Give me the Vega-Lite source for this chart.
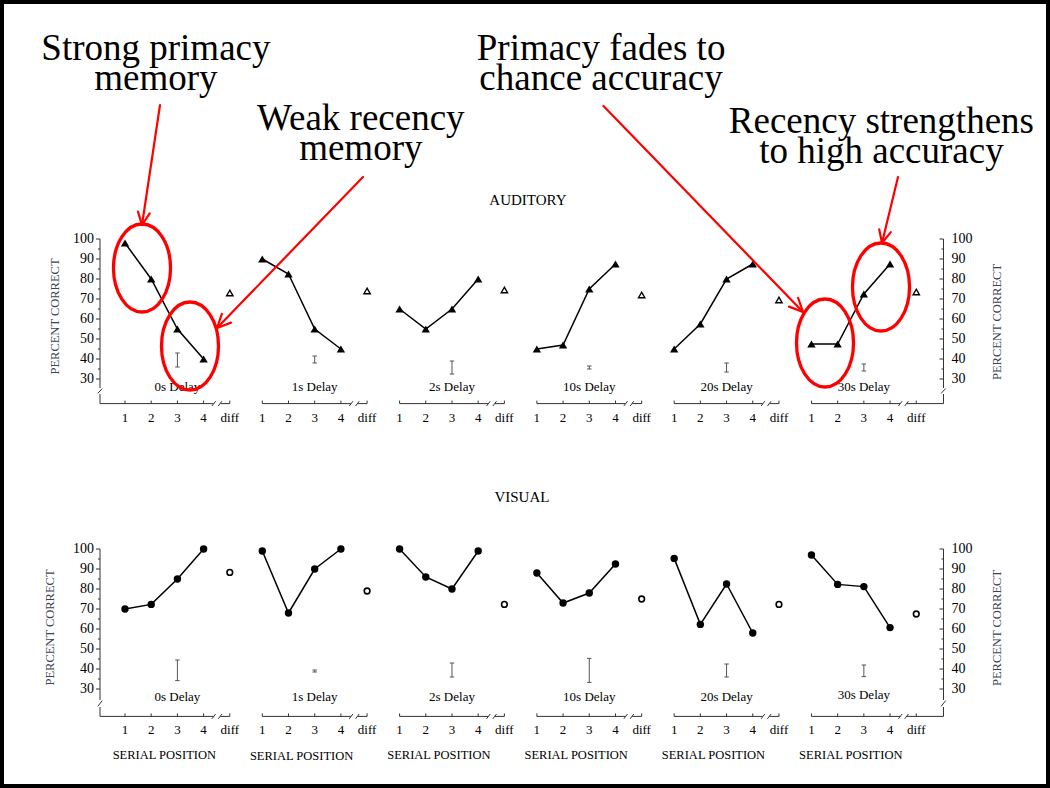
{
"$schema": "https://vega.github.io/schema/vega-lite/v6.json",
"width": 1050, "height": 788, "padding": 0, "autosize": {"type": "none"},
"background": "white",
"config": {"view": {"stroke": "black", "strokeWidth": 8}, "text": {"font": "Liberation Serif", "color": "black"}},
"data": {"values": [
{"kind":"d","row":"A","delay":"0s","panel":0,"pos":1,"val":98},
{"kind":"d","row":"A","delay":"0s","panel":0,"pos":2,"val":80},
{"kind":"d","row":"A","delay":"0s","panel":0,"pos":3,"val":55},
{"kind":"d","row":"A","delay":"0s","panel":0,"pos":4,"val":40},
{"kind":"d","row":"A","delay":"0s","panel":0,"pos":5,"val":73},
{"kind":"d","row":"A","delay":"1s","panel":1,"pos":1,"val":90},
{"kind":"d","row":"A","delay":"1s","panel":1,"pos":2,"val":82.5},
{"kind":"d","row":"A","delay":"1s","panel":1,"pos":3,"val":55},
{"kind":"d","row":"A","delay":"1s","panel":1,"pos":4,"val":45},
{"kind":"d","row":"A","delay":"1s","panel":1,"pos":5,"val":74},
{"kind":"d","row":"A","delay":"2s","panel":2,"pos":1,"val":65},
{"kind":"d","row":"A","delay":"2s","panel":2,"pos":2,"val":55},
{"kind":"d","row":"A","delay":"2s","panel":2,"pos":3,"val":65},
{"kind":"d","row":"A","delay":"2s","panel":2,"pos":4,"val":80},
{"kind":"d","row":"A","delay":"2s","panel":2,"pos":5,"val":74.5},
{"kind":"d","row":"A","delay":"10s","panel":3,"pos":1,"val":45},
{"kind":"d","row":"A","delay":"10s","panel":3,"pos":2,"val":47},
{"kind":"d","row":"A","delay":"10s","panel":3,"pos":3,"val":75},
{"kind":"d","row":"A","delay":"10s","panel":3,"pos":4,"val":87.5},
{"kind":"d","row":"A","delay":"10s","panel":3,"pos":5,"val":72},
{"kind":"d","row":"A","delay":"20s","panel":4,"pos":1,"val":45},
{"kind":"d","row":"A","delay":"20s","panel":4,"pos":2,"val":57.5},
{"kind":"d","row":"A","delay":"20s","panel":4,"pos":3,"val":80},
{"kind":"d","row":"A","delay":"20s","panel":4,"pos":4,"val":87.5},
{"kind":"d","row":"A","delay":"20s","panel":4,"pos":5,"val":69.5},
{"kind":"d","row":"A","delay":"30s","panel":5,"pos":1,"val":47.5},
{"kind":"d","row":"A","delay":"30s","panel":5,"pos":2,"val":47.5},
{"kind":"d","row":"A","delay":"30s","panel":5,"pos":3,"val":72.5},
{"kind":"d","row":"A","delay":"30s","panel":5,"pos":4,"val":87.5},
{"kind":"d","row":"A","delay":"30s","panel":5,"pos":5,"val":73.5},
{"kind":"d","row":"V","delay":"0s","panel":0,"pos":1,"val":70},
{"kind":"d","row":"V","delay":"0s","panel":0,"pos":2,"val":72.3},
{"kind":"d","row":"V","delay":"0s","panel":0,"pos":3,"val":85},
{"kind":"d","row":"V","delay":"0s","panel":0,"pos":4,"val":100},
{"kind":"d","row":"V","delay":"0s","panel":0,"pos":5,"val":88.3},
{"kind":"d","row":"V","delay":"1s","panel":1,"pos":1,"val":99},
{"kind":"d","row":"V","delay":"1s","panel":1,"pos":2,"val":68},
{"kind":"d","row":"V","delay":"1s","panel":1,"pos":3,"val":90},
{"kind":"d","row":"V","delay":"1s","panel":1,"pos":4,"val":100},
{"kind":"d","row":"V","delay":"1s","panel":1,"pos":5,"val":79},
{"kind":"d","row":"V","delay":"2s","panel":2,"pos":1,"val":100},
{"kind":"d","row":"V","delay":"2s","panel":2,"pos":2,"val":86},
{"kind":"d","row":"V","delay":"2s","panel":2,"pos":3,"val":80},
{"kind":"d","row":"V","delay":"2s","panel":2,"pos":4,"val":99},
{"kind":"d","row":"V","delay":"2s","panel":2,"pos":5,"val":72.3},
{"kind":"d","row":"V","delay":"10s","panel":3,"pos":1,"val":88},
{"kind":"d","row":"V","delay":"10s","panel":3,"pos":2,"val":73},
{"kind":"d","row":"V","delay":"10s","panel":3,"pos":3,"val":78},
{"kind":"d","row":"V","delay":"10s","panel":3,"pos":4,"val":92.5},
{"kind":"d","row":"V","delay":"10s","panel":3,"pos":5,"val":75},
{"kind":"d","row":"V","delay":"20s","panel":4,"pos":1,"val":95.3},
{"kind":"d","row":"V","delay":"20s","panel":4,"pos":2,"val":62.3},
{"kind":"d","row":"V","delay":"20s","panel":4,"pos":3,"val":82.5},
{"kind":"d","row":"V","delay":"20s","panel":4,"pos":4,"val":58},
{"kind":"d","row":"V","delay":"20s","panel":4,"pos":5,"val":72.3},
{"kind":"d","row":"V","delay":"30s","panel":5,"pos":1,"val":97},
{"kind":"d","row":"V","delay":"30s","panel":5,"pos":2,"val":82.3},
{"kind":"d","row":"V","delay":"30s","panel":5,"pos":3,"val":81.2},
{"kind":"d","row":"V","delay":"30s","panel":5,"pos":4,"val":60.7},
{"kind":"d","row":"V","delay":"30s","panel":5,"pos":5,"val":67.5},

{"kind":"e","row":"A","panel":0,"pos":3,"val":36,"val2":43},
{"kind":"e","row":"A","panel":1,"pos":3,"val":38,"val2":41.5},
{"kind":"e","row":"A","panel":2,"pos":3,"val":32.5,"val2":39},
{"kind":"e","row":"A","panel":3,"pos":3,"val":35,"val2":36.5},
{"kind":"e","row":"A","panel":4,"pos":3,"val":33.5,"val2":38},
{"kind":"e","row":"A","panel":5,"pos":3,"val":34,"val2":37.5},
{"kind":"e","row":"V","panel":0,"pos":3,"val":34.2,"val2":44.5},
{"kind":"e","row":"V","panel":1,"pos":3,"val":38.5,"val2":39.5},
{"kind":"e","row":"V","panel":2,"pos":3,"val":36,"val2":43},
{"kind":"e","row":"V","panel":3,"pos":3,"val":33.3,"val2":45.3},
{"kind":"e","row":"V","panel":4,"pos":3,"val":36,"val2":42.5},
{"kind":"e","row":"V","panel":5,"pos":3,"val":36.2,"val2":42},

{"kind":"seg","row":"A","panel":0,"pos":0.046,"pos2":4.38,"val":17.7,"val2":17.7},
{"kind":"seg","row":"A","panel":1,"pos":1,"pos2":4.38,"val":17.7,"val2":17.7},
{"kind":"seg","row":"A","panel":2,"pos":1,"pos2":4.38,"val":17.7,"val2":17.7},
{"kind":"seg","row":"A","panel":3,"pos":1,"pos2":4.38,"val":17.7,"val2":17.7},
{"kind":"seg","row":"A","panel":4,"pos":1,"pos2":4.38,"val":17.7,"val2":17.7},
{"kind":"seg","row":"A","panel":5,"pos":1,"pos2":4.38,"val":17.7,"val2":17.7},
{"kind":"seg","row":"A","panel":0,"pos":4.32,"pos2":4.46,"val":16.5,"val2":18.9},
{"kind":"seg","row":"A","panel":1,"pos":4.32,"pos2":4.46,"val":16.5,"val2":18.9},
{"kind":"seg","row":"A","panel":2,"pos":4.32,"pos2":4.46,"val":16.5,"val2":18.9},
{"kind":"seg","row":"A","panel":3,"pos":4.32,"pos2":4.46,"val":16.5,"val2":18.9},
{"kind":"seg","row":"A","panel":4,"pos":4.32,"pos2":4.46,"val":16.5,"val2":18.9},
{"kind":"seg","row":"A","panel":5,"pos":4.32,"pos2":4.46,"val":16.5,"val2":18.9},
{"kind":"seg","row":"A","panel":0,"pos":4.56,"pos2":4.70,"val":16.5,"val2":18.9},
{"kind":"seg","row":"A","panel":1,"pos":4.56,"pos2":4.70,"val":16.5,"val2":18.9},
{"kind":"seg","row":"A","panel":2,"pos":4.56,"pos2":4.70,"val":16.5,"val2":18.9},
{"kind":"seg","row":"A","panel":3,"pos":4.56,"pos2":4.70,"val":16.5,"val2":18.9},
{"kind":"seg","row":"A","panel":4,"pos":4.56,"pos2":4.70,"val":16.5,"val2":18.9},
{"kind":"seg","row":"A","panel":5,"pos":4.56,"pos2":4.70,"val":16.5,"val2":18.9},
{"kind":"seg","row":"A","panel":0,"pos":4.64,"pos2":5.0,"val":17.7,"val2":17.7},
{"kind":"seg","row":"A","panel":1,"pos":4.64,"pos2":5.0,"val":17.7,"val2":17.7},
{"kind":"seg","row":"A","panel":2,"pos":4.64,"pos2":5.0,"val":17.7,"val2":17.7},
{"kind":"seg","row":"A","panel":3,"pos":4.64,"pos2":5.0,"val":17.7,"val2":17.7},
{"kind":"seg","row":"A","panel":4,"pos":4.64,"pos2":5.0,"val":17.7,"val2":17.7},
{"kind":"seg","row":"A","panel":5,"pos":4.64,"pos2":6.04,"val":17.7,"val2":17.7},
{"kind":"seg","row":"V","panel":0,"pos":0.046,"pos2":4.38,"val":16.3,"val2":16.3},
{"kind":"seg","row":"V","panel":1,"pos":1,"pos2":4.38,"val":16.3,"val2":16.3},
{"kind":"seg","row":"V","panel":2,"pos":1,"pos2":4.38,"val":16.3,"val2":16.3},
{"kind":"seg","row":"V","panel":3,"pos":1,"pos2":4.38,"val":16.3,"val2":16.3},
{"kind":"seg","row":"V","panel":4,"pos":1,"pos2":4.38,"val":16.3,"val2":16.3},
{"kind":"seg","row":"V","panel":5,"pos":1,"pos2":4.38,"val":16.3,"val2":16.3},
{"kind":"seg","row":"V","panel":0,"pos":4.32,"pos2":4.46,"val":15.1,"val2":17.5},
{"kind":"seg","row":"V","panel":1,"pos":4.32,"pos2":4.46,"val":15.1,"val2":17.5},
{"kind":"seg","row":"V","panel":2,"pos":4.32,"pos2":4.46,"val":15.1,"val2":17.5},
{"kind":"seg","row":"V","panel":3,"pos":4.32,"pos2":4.46,"val":15.1,"val2":17.5},
{"kind":"seg","row":"V","panel":4,"pos":4.32,"pos2":4.46,"val":15.1,"val2":17.5},
{"kind":"seg","row":"V","panel":5,"pos":4.32,"pos2":4.46,"val":15.1,"val2":17.5},
{"kind":"seg","row":"V","panel":0,"pos":4.56,"pos2":4.70,"val":15.1,"val2":17.5},
{"kind":"seg","row":"V","panel":1,"pos":4.56,"pos2":4.70,"val":15.1,"val2":17.5},
{"kind":"seg","row":"V","panel":2,"pos":4.56,"pos2":4.70,"val":15.1,"val2":17.5},
{"kind":"seg","row":"V","panel":3,"pos":4.56,"pos2":4.70,"val":15.1,"val2":17.5},
{"kind":"seg","row":"V","panel":4,"pos":4.56,"pos2":4.70,"val":15.1,"val2":17.5},
{"kind":"seg","row":"V","panel":5,"pos":4.56,"pos2":4.70,"val":15.1,"val2":17.5},
{"kind":"seg","row":"V","panel":0,"pos":4.64,"pos2":5.0,"val":16.3,"val2":16.3},
{"kind":"seg","row":"V","panel":1,"pos":4.64,"pos2":5.0,"val":16.3,"val2":16.3},
{"kind":"seg","row":"V","panel":2,"pos":4.64,"pos2":5.0,"val":16.3,"val2":16.3},
{"kind":"seg","row":"V","panel":3,"pos":4.64,"pos2":5.0,"val":16.3,"val2":16.3},
{"kind":"seg","row":"V","panel":4,"pos":4.64,"pos2":5.0,"val":16.3,"val2":16.3},
{"kind":"seg","row":"V","panel":5,"pos":4.64,"pos2":6.04,"val":16.3,"val2":16.3},
{"kind":"seg","row":"A","panel":0,"pos":0.046,"pos2":0.046,"val":100,"val2":25.5},
{"kind":"seg","row":"A","panel":0,"pos":0.046,"pos2":0.046,"val":22.5,"val2":17.7},
{"kind":"seg","row":"A","panel":0,"pos":-0.04,"pos2":0.13,"val":22.8,"val2":25.2},
{"kind":"seg","row":"A","panel":5,"pos":6.04,"pos2":6.04,"val":100,"val2":25.5},
{"kind":"seg","row":"A","panel":5,"pos":6.04,"pos2":6.04,"val":22.5,"val2":17.7},
{"kind":"seg","row":"A","panel":5,"pos":5.95,"pos2":6.12,"val":22.8,"val2":25.2},
{"kind":"seg","row":"V","panel":0,"pos":0.046,"pos2":0.046,"val":100,"val2":24.5},
{"kind":"seg","row":"V","panel":0,"pos":0.046,"pos2":0.046,"val":21,"val2":16.3},
{"kind":"seg","row":"V","panel":0,"pos":-0.04,"pos2":0.13,"val":21.3,"val2":24.2},
{"kind":"seg","row":"V","panel":5,"pos":6.04,"pos2":6.04,"val":100,"val2":24.5},
{"kind":"seg","row":"V","panel":5,"pos":6.04,"pos2":6.04,"val":21,"val2":16.3},
{"kind":"seg","row":"V","panel":5,"pos":5.95,"pos2":6.12,"val":21.3,"val2":24.2},

{"kind":"xt","row":"A","panel":0,"pos":1,"val":17.7,"label":"1"},
{"kind":"xt","row":"A","panel":0,"pos":2,"val":17.7,"label":"2"},
{"kind":"xt","row":"A","panel":0,"pos":3,"val":17.7,"label":"3"},
{"kind":"xt","row":"A","panel":0,"pos":4,"val":17.7,"label":"4"},
{"kind":"xt","row":"A","panel":0,"pos":5,"val":17.7,"label":"diff"},
{"kind":"xt","row":"A","panel":1,"pos":1,"val":17.7,"label":"1"},
{"kind":"xt","row":"A","panel":1,"pos":2,"val":17.7,"label":"2"},
{"kind":"xt","row":"A","panel":1,"pos":3,"val":17.7,"label":"3"},
{"kind":"xt","row":"A","panel":1,"pos":4,"val":17.7,"label":"4"},
{"kind":"xt","row":"A","panel":1,"pos":5,"val":17.7,"label":"diff"},
{"kind":"xt","row":"A","panel":2,"pos":1,"val":17.7,"label":"1"},
{"kind":"xt","row":"A","panel":2,"pos":2,"val":17.7,"label":"2"},
{"kind":"xt","row":"A","panel":2,"pos":3,"val":17.7,"label":"3"},
{"kind":"xt","row":"A","panel":2,"pos":4,"val":17.7,"label":"4"},
{"kind":"xt","row":"A","panel":2,"pos":5,"val":17.7,"label":"diff"},
{"kind":"xt","row":"A","panel":3,"pos":1,"val":17.7,"label":"1"},
{"kind":"xt","row":"A","panel":3,"pos":2,"val":17.7,"label":"2"},
{"kind":"xt","row":"A","panel":3,"pos":3,"val":17.7,"label":"3"},
{"kind":"xt","row":"A","panel":3,"pos":4,"val":17.7,"label":"4"},
{"kind":"xt","row":"A","panel":3,"pos":5,"val":17.7,"label":"diff"},
{"kind":"xt","row":"A","panel":4,"pos":1,"val":17.7,"label":"1"},
{"kind":"xt","row":"A","panel":4,"pos":2,"val":17.7,"label":"2"},
{"kind":"xt","row":"A","panel":4,"pos":3,"val":17.7,"label":"3"},
{"kind":"xt","row":"A","panel":4,"pos":4,"val":17.7,"label":"4"},
{"kind":"xt","row":"A","panel":4,"pos":5,"val":17.7,"label":"diff"},
{"kind":"xt","row":"A","panel":5,"pos":1,"val":17.7,"label":"1"},
{"kind":"xt","row":"A","panel":5,"pos":2,"val":17.7,"label":"2"},
{"kind":"xt","row":"A","panel":5,"pos":3,"val":17.7,"label":"3"},
{"kind":"xt","row":"A","panel":5,"pos":4,"val":17.7,"label":"4"},
{"kind":"xt","row":"A","panel":5,"pos":5,"val":17.7,"label":"diff"},
{"kind":"xt","row":"V","panel":0,"pos":1,"val":16.3,"label":"1"},
{"kind":"xt","row":"V","panel":0,"pos":2,"val":16.3,"label":"2"},
{"kind":"xt","row":"V","panel":0,"pos":3,"val":16.3,"label":"3"},
{"kind":"xt","row":"V","panel":0,"pos":4,"val":16.3,"label":"4"},
{"kind":"xt","row":"V","panel":0,"pos":5,"val":16.3,"label":"diff"},
{"kind":"xt","row":"V","panel":1,"pos":1,"val":16.3,"label":"1"},
{"kind":"xt","row":"V","panel":1,"pos":2,"val":16.3,"label":"2"},
{"kind":"xt","row":"V","panel":1,"pos":3,"val":16.3,"label":"3"},
{"kind":"xt","row":"V","panel":1,"pos":4,"val":16.3,"label":"4"},
{"kind":"xt","row":"V","panel":1,"pos":5,"val":16.3,"label":"diff"},
{"kind":"xt","row":"V","panel":2,"pos":1,"val":16.3,"label":"1"},
{"kind":"xt","row":"V","panel":2,"pos":2,"val":16.3,"label":"2"},
{"kind":"xt","row":"V","panel":2,"pos":3,"val":16.3,"label":"3"},
{"kind":"xt","row":"V","panel":2,"pos":4,"val":16.3,"label":"4"},
{"kind":"xt","row":"V","panel":2,"pos":5,"val":16.3,"label":"diff"},
{"kind":"xt","row":"V","panel":3,"pos":1,"val":16.3,"label":"1"},
{"kind":"xt","row":"V","panel":3,"pos":2,"val":16.3,"label":"2"},
{"kind":"xt","row":"V","panel":3,"pos":3,"val":16.3,"label":"3"},
{"kind":"xt","row":"V","panel":3,"pos":4,"val":16.3,"label":"4"},
{"kind":"xt","row":"V","panel":3,"pos":5,"val":16.3,"label":"diff"},
{"kind":"xt","row":"V","panel":4,"pos":1,"val":16.3,"label":"1"},
{"kind":"xt","row":"V","panel":4,"pos":2,"val":16.3,"label":"2"},
{"kind":"xt","row":"V","panel":4,"pos":3,"val":16.3,"label":"3"},
{"kind":"xt","row":"V","panel":4,"pos":4,"val":16.3,"label":"4"},
{"kind":"xt","row":"V","panel":4,"pos":5,"val":16.3,"label":"diff"},
{"kind":"xt","row":"V","panel":5,"pos":1,"val":16.3,"label":"1"},
{"kind":"xt","row":"V","panel":5,"pos":2,"val":16.3,"label":"2"},
{"kind":"xt","row":"V","panel":5,"pos":3,"val":16.3,"label":"3"},
{"kind":"xt","row":"V","panel":5,"pos":4,"val":16.3,"label":"4"},
{"kind":"xt","row":"V","panel":5,"pos":5,"val":16.3,"label":"diff"},

{"kind":"yt","row":"A","side":"L","panel":0,"pos":0.046,"val":30},
{"kind":"yt","row":"A","side":"L","panel":0,"pos":0.046,"val":35},
{"kind":"yt","row":"A","side":"L","panel":0,"pos":0.046,"val":40},
{"kind":"yt","row":"A","side":"L","panel":0,"pos":0.046,"val":45},
{"kind":"yt","row":"A","side":"L","panel":0,"pos":0.046,"val":50},
{"kind":"yt","row":"A","side":"L","panel":0,"pos":0.046,"val":55},
{"kind":"yt","row":"A","side":"L","panel":0,"pos":0.046,"val":60},
{"kind":"yt","row":"A","side":"L","panel":0,"pos":0.046,"val":65},
{"kind":"yt","row":"A","side":"L","panel":0,"pos":0.046,"val":70},
{"kind":"yt","row":"A","side":"L","panel":0,"pos":0.046,"val":75},
{"kind":"yt","row":"A","side":"L","panel":0,"pos":0.046,"val":80},
{"kind":"yt","row":"A","side":"L","panel":0,"pos":0.046,"val":85},
{"kind":"yt","row":"A","side":"L","panel":0,"pos":0.046,"val":90},
{"kind":"yt","row":"A","side":"L","panel":0,"pos":0.046,"val":95},
{"kind":"yt","row":"A","side":"L","panel":0,"pos":0.046,"val":100},
{"kind":"yt","row":"A","side":"R","panel":5,"pos":6.04,"val":30},
{"kind":"yt","row":"A","side":"R","panel":5,"pos":6.04,"val":35},
{"kind":"yt","row":"A","side":"R","panel":5,"pos":6.04,"val":40},
{"kind":"yt","row":"A","side":"R","panel":5,"pos":6.04,"val":45},
{"kind":"yt","row":"A","side":"R","panel":5,"pos":6.04,"val":50},
{"kind":"yt","row":"A","side":"R","panel":5,"pos":6.04,"val":55},
{"kind":"yt","row":"A","side":"R","panel":5,"pos":6.04,"val":60},
{"kind":"yt","row":"A","side":"R","panel":5,"pos":6.04,"val":65},
{"kind":"yt","row":"A","side":"R","panel":5,"pos":6.04,"val":70},
{"kind":"yt","row":"A","side":"R","panel":5,"pos":6.04,"val":75},
{"kind":"yt","row":"A","side":"R","panel":5,"pos":6.04,"val":80},
{"kind":"yt","row":"A","side":"R","panel":5,"pos":6.04,"val":85},
{"kind":"yt","row":"A","side":"R","panel":5,"pos":6.04,"val":90},
{"kind":"yt","row":"A","side":"R","panel":5,"pos":6.04,"val":95},
{"kind":"yt","row":"A","side":"R","panel":5,"pos":6.04,"val":100},
{"kind":"yt","row":"V","side":"L","panel":0,"pos":0.046,"val":30},
{"kind":"yt","row":"V","side":"L","panel":0,"pos":0.046,"val":35},
{"kind":"yt","row":"V","side":"L","panel":0,"pos":0.046,"val":40},
{"kind":"yt","row":"V","side":"L","panel":0,"pos":0.046,"val":45},
{"kind":"yt","row":"V","side":"L","panel":0,"pos":0.046,"val":50},
{"kind":"yt","row":"V","side":"L","panel":0,"pos":0.046,"val":55},
{"kind":"yt","row":"V","side":"L","panel":0,"pos":0.046,"val":60},
{"kind":"yt","row":"V","side":"L","panel":0,"pos":0.046,"val":65},
{"kind":"yt","row":"V","side":"L","panel":0,"pos":0.046,"val":70},
{"kind":"yt","row":"V","side":"L","panel":0,"pos":0.046,"val":75},
{"kind":"yt","row":"V","side":"L","panel":0,"pos":0.046,"val":80},
{"kind":"yt","row":"V","side":"L","panel":0,"pos":0.046,"val":85},
{"kind":"yt","row":"V","side":"L","panel":0,"pos":0.046,"val":90},
{"kind":"yt","row":"V","side":"L","panel":0,"pos":0.046,"val":95},
{"kind":"yt","row":"V","side":"L","panel":0,"pos":0.046,"val":100},
{"kind":"yt","row":"V","side":"R","panel":5,"pos":6.04,"val":30},
{"kind":"yt","row":"V","side":"R","panel":5,"pos":6.04,"val":35},
{"kind":"yt","row":"V","side":"R","panel":5,"pos":6.04,"val":40},
{"kind":"yt","row":"V","side":"R","panel":5,"pos":6.04,"val":45},
{"kind":"yt","row":"V","side":"R","panel":5,"pos":6.04,"val":50},
{"kind":"yt","row":"V","side":"R","panel":5,"pos":6.04,"val":55},
{"kind":"yt","row":"V","side":"R","panel":5,"pos":6.04,"val":60},
{"kind":"yt","row":"V","side":"R","panel":5,"pos":6.04,"val":65},
{"kind":"yt","row":"V","side":"R","panel":5,"pos":6.04,"val":70},
{"kind":"yt","row":"V","side":"R","panel":5,"pos":6.04,"val":75},
{"kind":"yt","row":"V","side":"R","panel":5,"pos":6.04,"val":80},
{"kind":"yt","row":"V","side":"R","panel":5,"pos":6.04,"val":85},
{"kind":"yt","row":"V","side":"R","panel":5,"pos":6.04,"val":90},
{"kind":"yt","row":"V","side":"R","panel":5,"pos":6.04,"val":95},
{"kind":"yt","row":"V","side":"R","panel":5,"pos":6.04,"val":100},

{"kind":"dl","row":"A","panel":0,"pos":3,"val":26,"label":"0s  Delay"},
{"kind":"dl","row":"A","panel":1,"pos":3,"val":26,"label":"1s  Delay"},
{"kind":"dl","row":"A","panel":2,"pos":3,"val":26,"label":"2s Delay"},
{"kind":"dl","row":"A","panel":3,"pos":3,"val":26,"label":"10s Delay"},
{"kind":"dl","row":"A","panel":4,"pos":3,"val":26,"label":"20s Delay"},
{"kind":"dl","row":"A","panel":5,"pos":3,"val":26,"label":"30s Delay"},
{"kind":"dl","row":"V","panel":0,"pos":3,"val":26,"label":"0s  Delay"},
{"kind":"dl","row":"V","panel":1,"pos":3,"val":26,"label":"1s  Delay"},
{"kind":"dl","row":"V","panel":2,"pos":3,"val":26,"label":"2s Delay"},
{"kind":"dl","row":"V","panel":3,"pos":3,"val":26,"label":"10s Delay"},
{"kind":"dl","row":"V","panel":4,"pos":3,"val":26,"label":"20s Delay"},
{"kind":"dl","row":"V","panel":5,"pos":3,"val":27,"label":"30s Delay"},

{"kind":"sp","row":"V","panel":0,"pos":2.5,"val":-3,"label":"SERIAL  POSITION"},
{"kind":"sp","row":"V","panel":1,"pos":2.5,"val":-3.5,"label":"SERIAL  POSITION"},
{"kind":"sp","row":"V","panel":2,"pos":2.5,"val":-3,"label":"SERIAL  POSITION"},
{"kind":"sp","row":"V","panel":3,"pos":2.5,"val":-3,"label":"SERIAL  POSITION"},
{"kind":"sp","row":"V","panel":4,"pos":2.5,"val":-3,"label":"SERIAL  POSITION"},
{"kind":"sp","row":"V","panel":5,"pos":2.5,"val":-3,"label":"SERIAL  POSITION"},

{"kind":"pc","row":"A","panel":0,"pos":-1.672,"val":61.25,"label":"PERCENT  CORRECT"},
{"kind":"pc","row":"V","panel":0,"pos":-1.862,"val":60.75,"label":"PERCENT  CORRECT"},
{"kind":"pc","row":"A","panel":5,"pos":8.1,"val":58.5,"label":"PERCENT  CORRECT"},
{"kind":"pc","row":"V","panel":5,"pos":8.1,"val":60.5,"label":"PERCENT  CORRECT"},

{"kind":"title","row":"A","panel":0,"pos":16.38,"val":119.5,"label":"AUDITORY"},
{"kind":"title","row":"V","panel":0,"pos":16.15,"val":126,"label":"VISUAL"},

{"kind":"ann","row":"A","panel":0,"pos":2.18,"val":189.5,"label":"Strong primacy\nmemory"},
{"kind":"ann","row":"A","panel":0,"pos":10.0,"val":154.5,"label":"Weak recency\nmemory"},
{"kind":"ann","row":"A","panel":0,"pos":19.17,"val":189.5,"label":"Primacy fades to\nchance accuracy"},
{"kind":"ann","row":"A","panel":0,"pos":29.87,"val":153,"label":"Recency strengthens\nto high accuracy"},

{"kind":"ell","row":"A","panel":0,"pos":1.649,"val":85.5},
{"kind":"ell","row":"A","panel":0,"pos":3.481,"val":46.5},
{"kind":"ell","row":"A","panel":0,"pos":27.718,"val":48},
{"kind":"ell","row":"A","panel":0,"pos":29.855,"val":76},

{"kind":"arr","row":"A","panel":0,"pos":2.336,"pos2":1.649,"val":167,"val2":107},
{"kind":"arr","row":"A","panel":0,"pos":1.943,"pos2":1.649,"val":112.85,"val2":107},
{"kind":"arr","row":"A","panel":0,"pos":1.496,"pos2":1.649,"val":113.7,"val2":107},
{"kind":"arr","row":"A","panel":0,"pos":10.084,"pos2":4.511,"val":131,"val2":55.5},
{"kind":"arr","row":"A","panel":0,"pos":5.046,"pos2":4.511,"val":58.2,"val2":55.5},
{"kind":"arr","row":"A","panel":0,"pos":4.698,"pos2":4.511,"val":62.6,"val2":55.5},
{"kind":"arr","row":"A","panel":0,"pos":19.263,"pos2":26.878,"val":166.5,"val2":63.5},
{"kind":"arr","row":"A","panel":0,"pos":26.691,"pos2":26.878,"val":70.6,"val2":63.5},
{"kind":"arr","row":"A","panel":0,"pos":26.344,"pos2":26.878,"val":66.2,"val2":63.5},
{"kind":"arr","row":"A","panel":0,"pos":30.504,"pos2":29.893,"val":131,"val2":98},
{"kind":"arr","row":"A","panel":0,"pos":30.229,"pos2":29.893,"val":103.45,"val2":98},
{"kind":"arr","row":"A","panel":0,"pos":29.786,"pos2":29.893,"val":104.85,"val2":98}
]},
"transform": [
 {"calculate": "datum.panel * 5.24 + datum.pos", "as": "x"},
 {"calculate": "datum.panel * 5.24 + datum.pos2", "as": "x2"},
 {"calculate": "datum.row == 'V' ? datum.val - 155 : datum.val", "as": "y"},
 {"calculate": "datum.row == 'V' ? datum.val2 - 155 : datum.val2", "as": "y2"}
],
"encoding": {
 "x": {"field": "x", "type": "quantitative", "scale": {"domain": [-3.771, 36.305], "nice": false, "zero": false}, "axis": null},
 "y": {"field": "y", "type": "quantitative", "scale": {"domain": [-174.5, 219.5], "nice": false, "zero": false}, "axis": null}
},
"layer": [
 {"transform": [{"filter": "datum.kind == 'seg'"}], "mark": {"type": "rule", "color": "#333333", "strokeWidth": 1},
  "encoding": {"x2": {"field": "x2"}, "y2": {"field": "y2"}}},
 {"transform": [{"filter": "datum.kind == 'yt' && datum.side == 'L' && datum.val % 10 == 0"}], "mark": {"type": "point", "shape": "M-1,0L0,0", "size": 64, "filled": false, "stroke": "#333333", "strokeWidth": 1, "opacity": 1}, "encoding": {}},
 {"transform": [{"filter": "datum.kind == 'yt' && datum.side == 'L' && datum.val % 10 != 0"}], "mark": {"type": "point", "shape": "M-1,0L0,0", "size": 16, "filled": false, "stroke": "#333333", "strokeWidth": 1, "opacity": 1}, "encoding": {}},
 {"transform": [{"filter": "datum.kind == 'yt' && datum.side == 'R' && datum.val % 10 == 0"}], "mark": {"type": "point", "shape": "M-1,0L0,0", "size": 64, "filled": false, "stroke": "#333333", "strokeWidth": 1, "opacity": 1}, "encoding": {}},
 {"transform": [{"filter": "datum.kind == 'yt' && datum.side == 'R' && datum.val % 10 != 0"}], "mark": {"type": "point", "shape": "M-1,0L0,0", "size": 16, "filled": false, "stroke": "#333333", "strokeWidth": 1, "opacity": 1}, "encoding": {}},
 {"transform": [{"filter": "datum.kind == 'yt' && datum.side == 'L' && datum.val % 10 == 0"}], "mark": {"type": "text", "align": "right", "baseline": "middle", "dx": -6, "fontSize": 14},
  "encoding": {"text": {"field": "val"}}},
 {"transform": [{"filter": "datum.kind == 'yt' && datum.side == 'R' && datum.val % 10 == 0"}], "mark": {"type": "text", "align": "left", "baseline": "middle", "dx": 8, "fontSize": 14},
  "encoding": {"text": {"field": "val"}}},
 {"transform": [{"filter": "datum.kind == 'xt'"}], "mark": {"type": "point", "shape": "M0,0L0,-1", "size": 36, "filled": false, "stroke": "#333333", "strokeWidth": 1, "opacity": 1}, "encoding": {}},
 {"transform": [{"filter": "datum.kind == 'xt'"}], "mark": {"type": "text", "align": "center", "baseline": "middle", "dy": 14, "fontSize": 13},
  "encoding": {"text": {"field": "label"}}},
 {"transform": [{"filter": "datum.kind == 'e'"}], "mark": {"type": "rule", "color": "#555555", "strokeWidth": 1},
  "encoding": {"y2": {"field": "y2"}}},
 {"transform": [{"filter": "datum.kind == 'e'"}], "mark": {"type": "point", "shape": "M-1,0L1,0", "size": 20, "filled": false, "stroke": "#555555", "strokeWidth": 1, "opacity": 1}, "encoding": {}},
 {"transform": [{"filter": "datum.kind == 'e'"}], "mark": {"type": "point", "shape": "M-1,0L1,0", "size": 20, "filled": false, "stroke": "#555555", "strokeWidth": 1, "opacity": 1},
  "encoding": {"y": {"field": "y2", "type": "quantitative"}}},
 {"transform": [{"filter": "datum.kind == 'd' && datum.pos < 5"}], "mark": {"type": "line", "color": "black", "strokeWidth": 1.5},
  "encoding": {"detail": [{"field": "row"}, {"field": "panel"}], "order": {"field": "pos", "type": "quantitative"}}},
 {"transform": [{"filter": "datum.kind == 'd' && datum.row == 'A' && datum.pos < 5"}], "mark": {"type": "point", "shape": "triangle-up", "size": 70, "filled": true, "color": "black", "opacity": 1}, "encoding": {}},
 {"transform": [{"filter": "datum.kind == 'd' && datum.row == 'A' && datum.pos == 5"}], "mark": {"type": "point", "shape": "triangle-up", "size": 40, "filled": false, "stroke": "black", "fill": "white", "strokeWidth": 1.4, "opacity": 1}, "encoding": {}},
 {"transform": [{"filter": "datum.kind == 'd' && datum.row == 'V' && datum.pos < 5"}], "mark": {"type": "point", "shape": "circle", "size": 55, "filled": true, "color": "black", "opacity": 1}, "encoding": {}},
 {"transform": [{"filter": "datum.kind == 'd' && datum.row == 'V' && datum.pos == 5"}], "mark": {"type": "point", "shape": "circle", "size": 32, "filled": false, "stroke": "black", "fill": "white", "strokeWidth": 1.6, "opacity": 1}, "encoding": {}},
 {"transform": [{"filter": "datum.kind == 'dl'"}], "mark": {"type": "text", "align": "center", "baseline": "middle", "fontSize": 13}, "encoding": {"text": {"field": "label"}}},
 {"transform": [{"filter": "datum.kind == 'sp'"}], "mark": {"type": "text", "align": "center", "baseline": "middle", "fontSize": 12.5}, "encoding": {"text": {"field": "label"}}},
 {"transform": [{"filter": "datum.kind == 'title'"}], "mark": {"type": "text", "align": "center", "baseline": "middle", "fontSize": 15}, "encoding": {"text": {"field": "label"}}},
 {"transform": [{"filter": "datum.kind == 'pc'"}], "mark": {"type": "text", "align": "center", "baseline": "middle", "fontSize": 12.5, "angle": 270, "color": "#3c4258"}, "encoding": {"text": {"field": "label"}}},
 {"transform": [{"filter": "datum.kind == 'arr'"}], "mark": {"type": "rule", "color": "#ff0000", "strokeWidth": 2.2, "strokeCap": "round"},
  "encoding": {"x2": {"field": "x2"}, "y2": {"field": "y2"}}},
 {"transform": [{"filter": "datum.kind == 'ell'"}], "mark": {"type": "point", "shape": "M0,-1A0.648,1 0 1,1 0,1A0.648,1 0 1,1 0,-1Z", "size": 7744, "filled": false, "stroke": "#ff0000", "strokeWidth": 3.3, "opacity": 1}, "encoding": {}},
 {"transform": [{"filter": "datum.kind == 'ann'"}], "mark": {"type": "text", "align": "center", "baseline": "alphabetic", "fontSize": 37, "lineBreak": "\n", "lineHeight": 30}, "encoding": {"text": {"field": "label"}}}
]
}
